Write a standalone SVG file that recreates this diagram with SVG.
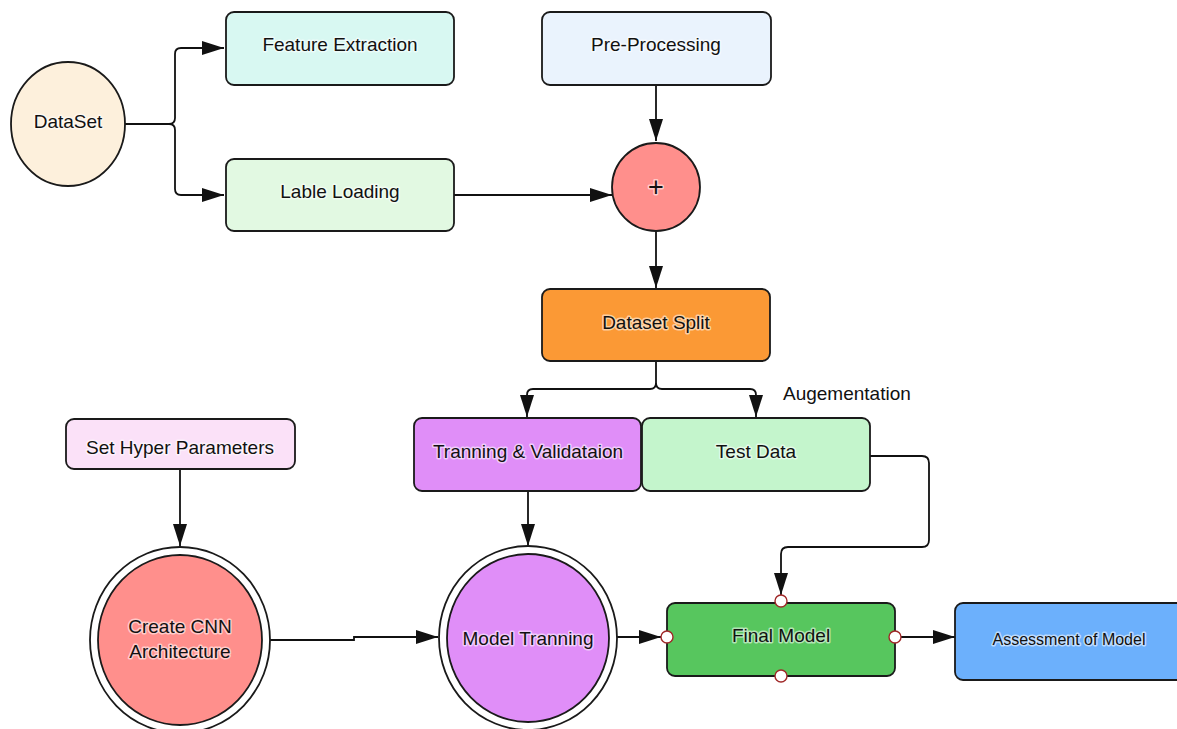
<svg xmlns="http://www.w3.org/2000/svg" width="1177" height="729" viewBox="0 0 1177 729">
  <style>
    .box { stroke: #1a1a1a; stroke-width: 1.8; }
    .lbl { font-family: "Liberation Sans", Arial, sans-serif; font-size: 19px; fill: #111; text-anchor: middle; stroke: #ffffff; stroke-opacity: 0.55; stroke-width: 3; paint-order: stroke; stroke-linejoin: round; }
    .edge { fill: none; stroke: #111; stroke-width: 1.8; }
    .port { fill: #ffffff; stroke: #a02828; stroke-width: 1.4; }
  </style>
  <defs>
    <marker id="arrow" markerUnits="userSpaceOnUse" markerWidth="24" markerHeight="16" refX="22" refY="8" orient="auto">
      <path d="M0,1 L22,8 L0,15 Z" fill="#111"/>
    </marker>
  </defs>

  <!-- connectors -->
  <g id="connectors">
    <path class="edge" d="M125,124 H169 Q175,124 175,118 V54 Q175,48 181,48 H224" marker-end="url(#arrow)"/>
    <path class="edge" d="M169,124 Q175,124 175,130 V189 Q175,195 181,195 H224" marker-end="url(#arrow)"/>
    <path class="edge" d="M454,195 H612" marker-end="url(#arrow)"/>
    <path class="edge" d="M656,85 V141" marker-end="url(#arrow)"/>
    <path class="edge" d="M656,232 V288" marker-end="url(#arrow)"/>
    <path class="edge" d="M656,361 V383 Q656,389 650,389 H533 Q527,389 527,395 V417" marker-end="url(#arrow)"/>
    <path class="edge" d="M656,383 Q656,389 662,389 H750 Q756,389 756,395 V417" marker-end="url(#arrow)"/>
    <path class="edge" d="M180,469 V546" marker-end="url(#arrow)"/>
    <path class="edge" d="M528,491 V546" marker-end="url(#arrow)"/>
    <path class="edge" d="M270,640 H354 V637 H438" marker-end="url(#arrow)"/>
    <path class="edge" d="M617,637 H661" marker-end="url(#arrow)"/>
    <path class="edge" d="M870,456 H922 Q929,456 929,463 V540 Q929,547 922,547 H788 Q781,547 781,554 V595" marker-end="url(#arrow)"/>
    <path class="edge" d="M901,637 H955" marker-end="url(#arrow)"/>
  </g>

  <g id="dataset">
    <ellipse class="box" cx="68" cy="124" rx="57" ry="62" fill="#fdf0dc"/>
    <text class="lbl" x="68" y="128">DataSet</text>
  </g>

  <g id="feature-extraction">
    <rect class="box" x="226" y="12" width="228" height="73" rx="8" fill="#d8f8f2"/>
    <text class="lbl" x="340" y="51">Feature Extraction</text>
  </g>

  <g id="label-loading">
    <rect class="box" x="226" y="159" width="228" height="72" rx="8" fill="#e2f9e2"/>
    <text class="lbl" x="340" y="198">Lable Loading</text>
  </g>

  <g id="pre-processing">
    <rect class="box" x="542" y="12" width="229" height="73" rx="8" fill="#eaf3fd"/>
    <text class="lbl" x="656" y="51">Pre-Processing</text>
  </g>

  <g id="merge">
    <circle class="box" cx="656" cy="187" r="44" fill="#ff8f8c"/>
    <text class="lbl" x="656" y="196" style="font-size:27px">+</text>
  </g>

  <g id="dataset-split">
    <rect class="box" x="542" y="289" width="228" height="72" rx="8" fill="#fb9935"/>
    <text class="lbl" x="656" y="329">Dataset Split</text>
  </g>

  <g id="augmentation-label">
    <text class="lbl" x="783" y="400" style="text-anchor:start">Augementation</text>
  </g>

  <g id="training-validation">
    <rect class="box" x="414" y="418" width="227" height="73" rx="8" fill="#e08ef8"/>
    <text class="lbl" x="528" y="458">Tranning &amp; Validataion</text>
  </g>

  <g id="test-data">
    <rect class="box" x="642" y="418" width="228" height="73" rx="8" fill="#c4f5cc"/>
    <text class="lbl" x="756" y="458">Test Data</text>
  </g>

  <g id="hyper-parameters">
    <rect class="box" x="66" y="419" width="229" height="50" rx="8" fill="#fbe1f8"/>
    <text class="lbl" x="180" y="454">Set Hyper Parameters</text>
  </g>

  <g id="cnn-architecture">
    <ellipse class="box" cx="180" cy="640" rx="90" ry="93" fill="#ffffff"/>
    <ellipse class="box" cx="180" cy="640" rx="82" ry="85" fill="#ff8f8c"/>
    <text class="lbl" x="180" y="633">Create CNN</text>
    <text class="lbl" x="180" y="658">Architecture</text>
  </g>

  <g id="model-training">
    <ellipse class="box" cx="528" cy="638" rx="89" ry="92" fill="#ffffff"/>
    <ellipse class="box" cx="528" cy="638" rx="81" ry="84" fill="#e08ef8"/>
    <text class="lbl" x="528" y="645">Model Tranning</text>
  </g>

  <g id="final-model">
    <rect class="box" x="667" y="603" width="228" height="73" rx="8" fill="#57c65e"/>
    <text class="lbl" x="781" y="642">Final Model</text>
    <circle class="port" cx="781" cy="601" r="6"/>
    <circle class="port" cx="667" cy="637" r="6"/>
    <circle class="port" cx="895" cy="637" r="6"/>
    <circle class="port" cx="781" cy="676" r="6"/>
  </g>

  <g id="assessment">
    <rect class="box" x="955" y="603" width="230" height="77" rx="8" fill="#6cb0fc"/>
    <text class="lbl" x="1069" y="645" style="font-size:16px">Assessment of Model</text>
  </g>
</svg>
